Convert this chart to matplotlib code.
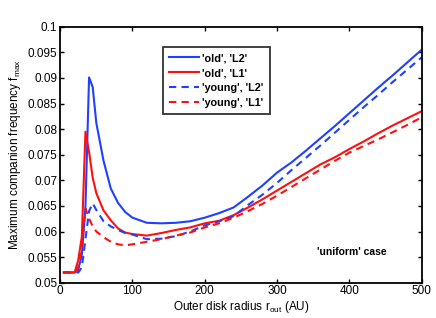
import matplotlib
matplotlib.use("Agg")
import matplotlib.pyplot as plt

plt.rcParams["font.family"] = ["Liberation Sans", "DejaVu Sans"]
plt.rcParams["mathtext.default"] = "regular"

# Outer disk radius grid (AU)
r_out = [5, 10, 15, 20, 25, 30, 35, 40, 45, 50, 60, 70, 80, 90, 100, 120, 140, 160,
         180, 200, 220, 240, 260, 280, 300, 320, 340, 360, 380, 400, 420, 440, 460,
         480, 500]

# 'old', 'L2'
old_l2 = [0.052, 0.052, 0.052, 0.052, 0.0525, 0.0555, 0.065, 0.0901, 0.0882, 0.0812,
          0.0738, 0.0684, 0.0656, 0.0638, 0.0627, 0.0617, 0.0616, 0.0617, 0.0620,
          0.0627, 0.0636, 0.0647, 0.0668, 0.0690, 0.0715, 0.0735, 0.0758, 0.0782,
          0.0806, 0.0831, 0.0856, 0.0881, 0.0905, 0.0930, 0.0955]
# 'old', 'L1'
old_l1 = [0.052, 0.052, 0.052, 0.052, 0.0544, 0.0590, 0.0795, 0.0755, 0.0705, 0.0675,
          0.0641, 0.0622, 0.0606, 0.0598, 0.0595, 0.0592, 0.0597, 0.0603, 0.0608,
          0.0616, 0.0621, 0.0632, 0.0647, 0.0663, 0.0680, 0.0697, 0.0714, 0.0731,
          0.0745, 0.0761, 0.0776, 0.0792, 0.0807, 0.0821, 0.0835]
# 'young', 'L2'
young_l2 = [0.052, 0.052, 0.052, 0.052, 0.052, 0.0530, 0.0585, 0.0640, 0.0655, 0.0642,
            0.0620, 0.0610, 0.0603, 0.0597, 0.0594, 0.0585, 0.0586, 0.0591, 0.0600,
            0.0612, 0.0620, 0.0630, 0.0652, 0.0672, 0.0695, 0.0720, 0.0744, 0.0768,
            0.0793, 0.0818, 0.0843, 0.0867, 0.0892, 0.0916, 0.0940]
# 'young', 'L1'
young_l1 = [0.052, 0.052, 0.052, 0.052, 0.0530, 0.0568, 0.0645, 0.0625, 0.0610, 0.0600,
            0.0589, 0.0580, 0.0575, 0.0573, 0.0575, 0.0580, 0.0585, 0.0592, 0.0598,
            0.0608, 0.0616, 0.0627, 0.0640, 0.0654, 0.0670, 0.0687, 0.0704, 0.0721,
            0.0738, 0.0754, 0.0767, 0.0780, 0.0794, 0.0808, 0.0823]

blue = "#2040ff"
red = "#ff1010"

fig = plt.figure(figsize=(4.36, 3.18), dpi=100)
ax = fig.add_axes([0.138, 0.111, 0.829, 0.805])

ax.plot(r_out, old_l2, color=blue, lw=1.5, label="'old', 'L2'")
ax.plot(r_out, old_l1, color=red, lw=1.5, label="'old', 'L1'")
ax.plot(r_out, young_l2, color=blue, lw=1.5, ls=(0, (3.5, 2.5)), label="'young', 'L2'")
ax.plot(r_out, young_l1, color=red, lw=1.5, ls=(0, (3.5, 2.5)), label="'young', 'L1'")

ax.set_xlim(0, 500)
ax.set_ylim(0.05, 0.1)
ax.set_xticks([0, 100, 200, 300, 400, 500])
ax.set_yticks([0.05, 0.055, 0.06, 0.065, 0.07, 0.075, 0.08, 0.085, 0.09, 0.095, 0.1])
ax.set_yticklabels(["0.05", "0.055", "0.06", "0.065", "0.07", "0.075", "0.08",
                    "0.085", "0.09", "0.095", "0.1"])
ax.tick_params(direction="in", top=True, right=True, labelsize=8.5, length=3, width=1,
               pad=2)
for s in ax.spines.values():
    s.set_linewidth(1.3)

ax.set_xlabel("Outer disk radius r$_{out}$ (AU)", fontsize=8.5, labelpad=1)
ax.set_ylabel("Maximum companion frequency f$_{max}$", fontsize=8.5, labelpad=3)

leg = ax.legend(loc="upper left", bbox_to_anchor=(0.284, 0.92),
                prop={"weight": "bold", "size": 7.8}, frameon=True, fancybox=False,
                handlelength=2.8, handletextpad=0.3, borderpad=0.55, labelspacing=0.45,
                borderaxespad=0)
leg.get_frame().set_edgecolor("black")
leg.get_frame().set_linewidth(1.3)

ax.text(0.807, 0.12, "'uniform' case", transform=ax.transAxes, ha="center",
        va="center", fontsize=7.5, fontweight="bold")

fig.savefig("out.png", dpi=100)
